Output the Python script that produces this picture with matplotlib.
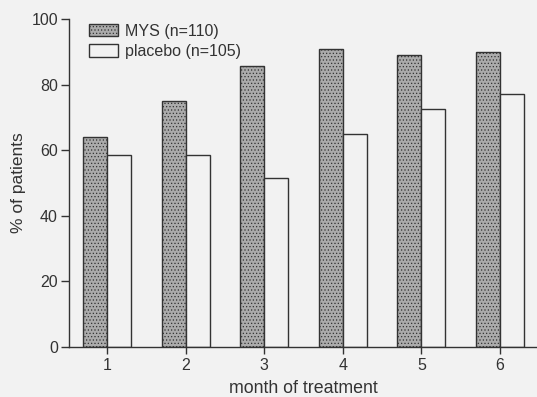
import matplotlib
matplotlib.use("Agg")
import matplotlib.pyplot as plt
import numpy as np

months = [1, 2, 3, 4, 5, 6]
mys = [64, 75, 85.6, 91, 89, 89.8]
placebo = [58.5, 58.5, 51.6, 64.8, 72.6, 77]
yticks = [0, 20, 40, 60, 80, 100]

plt.rcParams['font.family'] = ['Liberation Sans', 'DejaVu Sans']
plt.rcParams['hatch.color'] = '#808080'
plt.rcParams['hatch.linewidth'] = 0.5
bg = '#f2f2f2'
ink = '#333333'
fig = plt.figure(figsize=(5.37, 3.97), dpi=100, facecolor=bg)
ax = fig.add_axes([69/537, 1-347/397, 1-69/537, (347-19)/397])
ax.set_facecolor(bg)

x = np.array(months, dtype=float)
w = 0.305
ax.bar(x, mys, width=-w, align='edge', color='#ababab', edgecolor=ink,
       linewidth=1.0, hatch='.....', label='MYS (n=110)')
ax.bar(x, placebo, width=w, align='edge', color=bg, edgecolor=ink,
       linewidth=1.0, label='placebo (n=105)')

ax.set_xlim(0.517, 6.47)
ax.set_ylim(0, 100)
ax.set_xticks(months)
ax.set_yticks(yticks)
for s in ['top', 'right']:
    ax.spines[s].set_visible(False)
for s in ['left', 'bottom']:
    ax.spines[s].set_color(ink)
    ax.spines[s].set_linewidth(1.0)
ax.tick_params(axis='y', length=6, width=1, color=ink, labelsize=11.5, labelcolor=ink, pad=2)
ax.tick_params(axis='x', length=5, width=1, color=ink, labelsize=11.5, labelcolor=ink, pad=3)
ax.set_ylabel('% of patients', fontsize=12.5, color=ink)
ax.set_xlabel('month of treatment', fontsize=12.8, color=ink)
ax.yaxis.set_label_coords((26-69)/468, 0.5)
ax.xaxis.set_label_coords((303-69)/468, (347-380)/328)

leg = ax.legend(loc='upper left', bbox_to_anchor=(0.035, 0.996), frameon=False,
                fontsize=11.5, handlelength=1.85, handleheight=0.8, handletextpad=0.4,
                labelspacing=0.35, borderaxespad=0, borderpad=0.2)
for t in leg.get_texts():
    t.set_color(ink)

fig.savefig('out.png', dpi=100, facecolor=bg)
